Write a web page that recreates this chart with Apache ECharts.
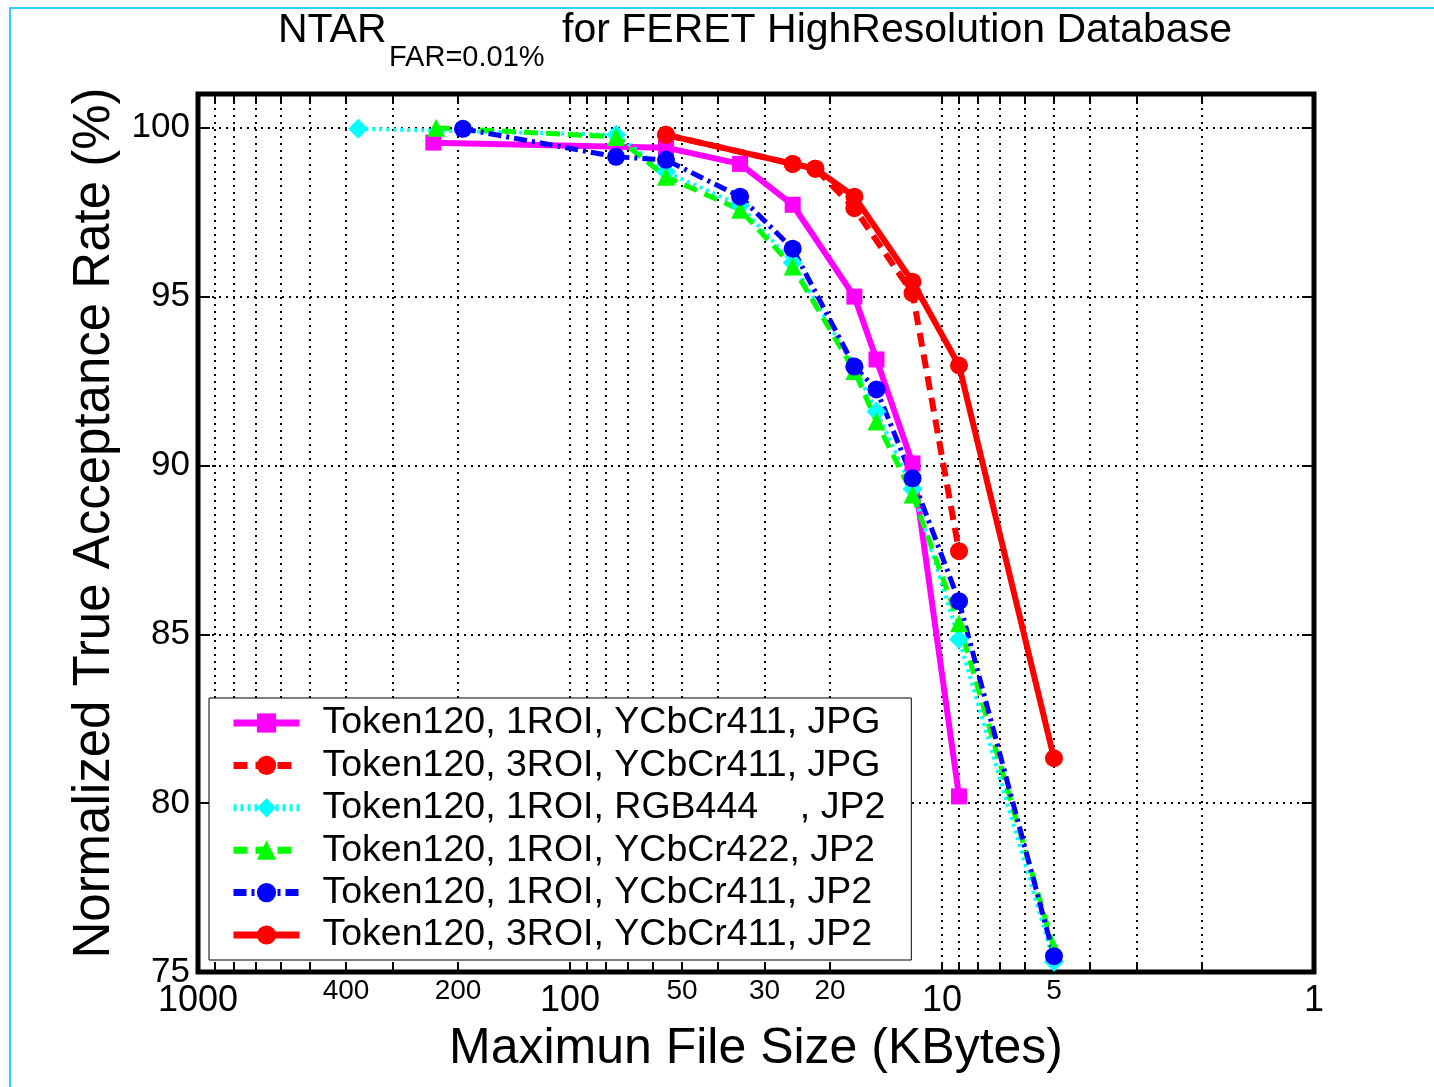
<!DOCTYPE html>
<html>
<head>
<meta charset="utf-8">
<script src="https://cdn.jsdelivr.net/npm/echarts@6/dist/echarts.min.js"></script>
<style>
html, body { margin: 0; padding: 0; background: #fff; }
#chart { width: 1434px; height: 1087px; }
</style>
</head>
<body>
<div id="chart"></div>
<script>
// file size (KBytes) and normalized TAR (%) for each curve
var jpg1_x = [233, 55.2, 34.9, 25.2, 17.2, 15.0, 12.0, 9.0];
var jpg1_y = [99.56, 99.41, 98.93, 97.72, 95.0, 93.14, 90.06, 80.2];

var jpg3_x = [55.2, 25.2, 21.9, 17.2, 12.0, 9.0];
var jpg3_y = [99.79, 98.93, 98.79, 97.62, 95.1, 87.46];

var rgb_x = [371, 75.2, 55.2, 34.9, 25.2, 17.2, 15.0, 12.0, 9.0, 5.0];
var rgb_y = [99.97, 99.79, 98.7, 97.7, 96.0, 92.9, 91.6, 89.3, 84.85, 75.3];

var y422_x = [229, 75.2, 55.2, 34.9, 25.2, 17.2, 15.0, 12.0, 9.0, 5.0];
var y422_y = [100.0, 99.73, 98.55, 97.57, 95.89, 92.8, 91.3, 89.14, 85.33, 75.7];

var y411_x = [194, 75.2, 55.2, 34.9, 25.2, 17.2, 15.0, 12.0, 9.0, 5.0];
var y411_y = [99.97, 99.14, 99.05, 97.96, 96.42, 92.93, 92.25, 89.62, 85.98, 75.47];

var jp3_x = [55.2, 25.2, 21.9, 17.2, 12.0, 9.0, 5.0];
var jp3_y = [99.79, 98.93, 98.79, 97.96, 95.44, 92.96, 81.33];

var names = [
    'Token120, 1ROI, YCbCr411, JPG',
    'Token120, 3ROI, YCbCr411, JPG',
    'Token120, 1ROI, RGB444    , JP2',
    'Token120, 1ROI, YCbCr422, JP2',
    'Token120, 1ROI, YCbCr411, JP2',
    'Token120, 3ROI, YCbCr411, JP2'
];

var xLabels = [1000, 400, 200, 100, 50, 30, 20, 10, 5, 1];
var bigLabels = [1000, 100, 10, 1];
var xTicks = [1000, 900, 800, 700, 600, 500, 400, 300, 200, 100, 90, 80, 70, 60, 50, 40, 30, 20,
              10, 9, 8, 7, 6, 5, 4, 3, 2, 1];
var yTicks = [75, 80, 85, 90, 95, 100];

function pairs(xs, ys) {
    return xs.map(function (x, i) { return [x, ys[i]]; });
}

var font = 'Liberation Sans, Arial, sans-serif';
var myChart = echarts.init(document.getElementById('chart'));

var xAxisBase = {
    type: 'log',
    logBase: 10,
    min: 1,
    max: 1000,
    inverse: true,
    axisLine: { show: false },
    axisTick: { inside: true, length: 10, customValues: xTicks, lineStyle: { color: '#000', width: 2 } },
    splitLine: { show: false },
    minorTick: { show: false }
};

var gridLine = { color: '#000', width: 2, type: [2, 5] };

option = {
    backgroundColor: '#fff',
    animation: false,
    title: [{
        text: 'NTAR',
        left: 278, top: 10, padding: 0,
        textStyle: { fontFamily: font, fontSize: 41, fontWeight: 'normal', color: '#000' }
    }, {
        text: 'FAR=0.01%',
        left: 389, top: 43, padding: 0,
        textStyle: { fontFamily: font, fontSize: 29, fontWeight: 'normal', color: '#000' }
    }, {
        text: 'for FERET HighResolution Database',
        left: 562, top: 10, padding: 0,
        textStyle: { fontFamily: font, fontSize: 41, fontWeight: 'normal', color: '#000' }
    }],
    legend: {
        orient: 'vertical',
        left: 209, top: 698,
        padding: [4, 26, 4, 21],
        itemWidth: 66, itemHeight: 24, itemGap: 0.4,
        backgroundColor: '#fff',
        borderColor: '#000', borderWidth: 1,
        lineStyle: { width: 7 },
        textStyle: { fontFamily: font, fontSize: 37.5, color: '#000', lineHeight: 42, padding: [0, 0, 0, 18] },
        data: names
    },
    grid: {
        left: 198, right: 120, top: 94, bottom: 115,
        show: true, borderColor: '#000', borderWidth: 5,
        outerBoundsMode: 'none'
    },
    xAxis: [Object.assign({}, xAxisBase, {
        position: 'bottom',
        name: 'Maximun File Size (KBytes)',
        nameLocation: 'middle',
        nameGap: 50,
        nameTextStyle: { fontFamily: font, fontSize: 50, color: '#000' },
        splitLine: { show: true, lineStyle: gridLine },
        axisLabel: {
            customValues: xLabels,
            margin: 7,
            formatter: function (v) {
                var n = Math.round(v);
                return bigLabels.indexOf(n) >= 0 ? '{b|' + n + '}' : '{s|' + n + '}';
            },
            rich: {
                b: { fontFamily: font, fontSize: 36, lineHeight: 44, color: '#000' },
                s: { fontFamily: font, fontSize: 28, lineHeight: 24, color: '#000' }
            }
        }
    }), Object.assign({}, xAxisBase, {
        position: 'top',
        axisLabel: { show: false }
    })],
    yAxis: [{
        type: 'value',
        min: 75, max: 101,
        axisLine: { show: false },
        axisTick: { inside: true, length: 12, customValues: yTicks, lineStyle: { color: '#000', width: 2 } },
        axisLabel: { customValues: yTicks, margin: 8, fontFamily: font, fontSize: 35, color: '#000' },
        splitLine: { show: true, lineStyle: gridLine },
        name: 'Normalized True Acceptance Rate (%)',
        nameLocation: 'middle',
        nameGap: 72,
        nameTextStyle: { fontFamily: font, fontSize: 51, color: '#000', padding: [0, 0, 0, 20] }
    }, {
        type: 'value',
        position: 'right',
        min: 75, max: 101,
        axisLine: { show: false },
        axisTick: { inside: true, length: 12, customValues: yTicks, lineStyle: { color: '#000', width: 2 } },
        axisLabel: { show: false },
        splitLine: { show: false }
    }],
    series: [{
        name: names[0], type: 'line',
        data: pairs(jpg1_x, jpg1_y),
        symbol: 'rect', symbolSize: 16,
        itemStyle: { color: '#ff00ff' },
        lineStyle: { color: '#ff00ff', width: 6 }
    }, {
        name: names[1], type: 'line',
        data: pairs(jpg3_x, jpg3_y),
        symbol: 'circle', symbolSize: 18,
        itemStyle: { color: '#ff0000' },
        lineStyle: { color: '#ff0000', width: 6, type: [14, 8] }
    }, {
        name: names[2], type: 'line',
        data: pairs(rgb_x, rgb_y),
        symbol: 'diamond', symbolSize: 20,
        itemStyle: { color: '#00ffff' },
        lineStyle: { color: '#00ffff', width: 4, type: [3, 4] }
    }, {
        name: names[3], type: 'line',
        data: pairs(y422_x, y422_y),
        symbol: 'triangle', symbolSize: 18,
        itemStyle: { color: '#00ff00' },
        lineStyle: { color: '#00ff00', width: 5, type: [14, 8] }
    }, {
        name: names[4], type: 'line',
        data: pairs(y411_x, y411_y),
        symbol: 'circle', symbolSize: 18,
        itemStyle: { color: '#0000ff' },
        lineStyle: { color: '#0000ff', width: 5, type: [13, 5, 3, 5] }
    }, {
        name: names[5], type: 'line',
        data: pairs(jp3_x, jp3_y),
        symbol: 'circle', symbolSize: 18,
        itemStyle: { color: '#ff0000' },
        lineStyle: { color: '#ff0000', width: 6 }
    }],
    graphic: [{
        type: 'rect',
        shape: { x: 10, y: 8, width: 1440, height: 1100 },
        style: { fill: null, stroke: '#33ccff', lineWidth: 2 },
        silent: true
    }]
};

myChart.setOption(option);
</script>
</body>
</html>
